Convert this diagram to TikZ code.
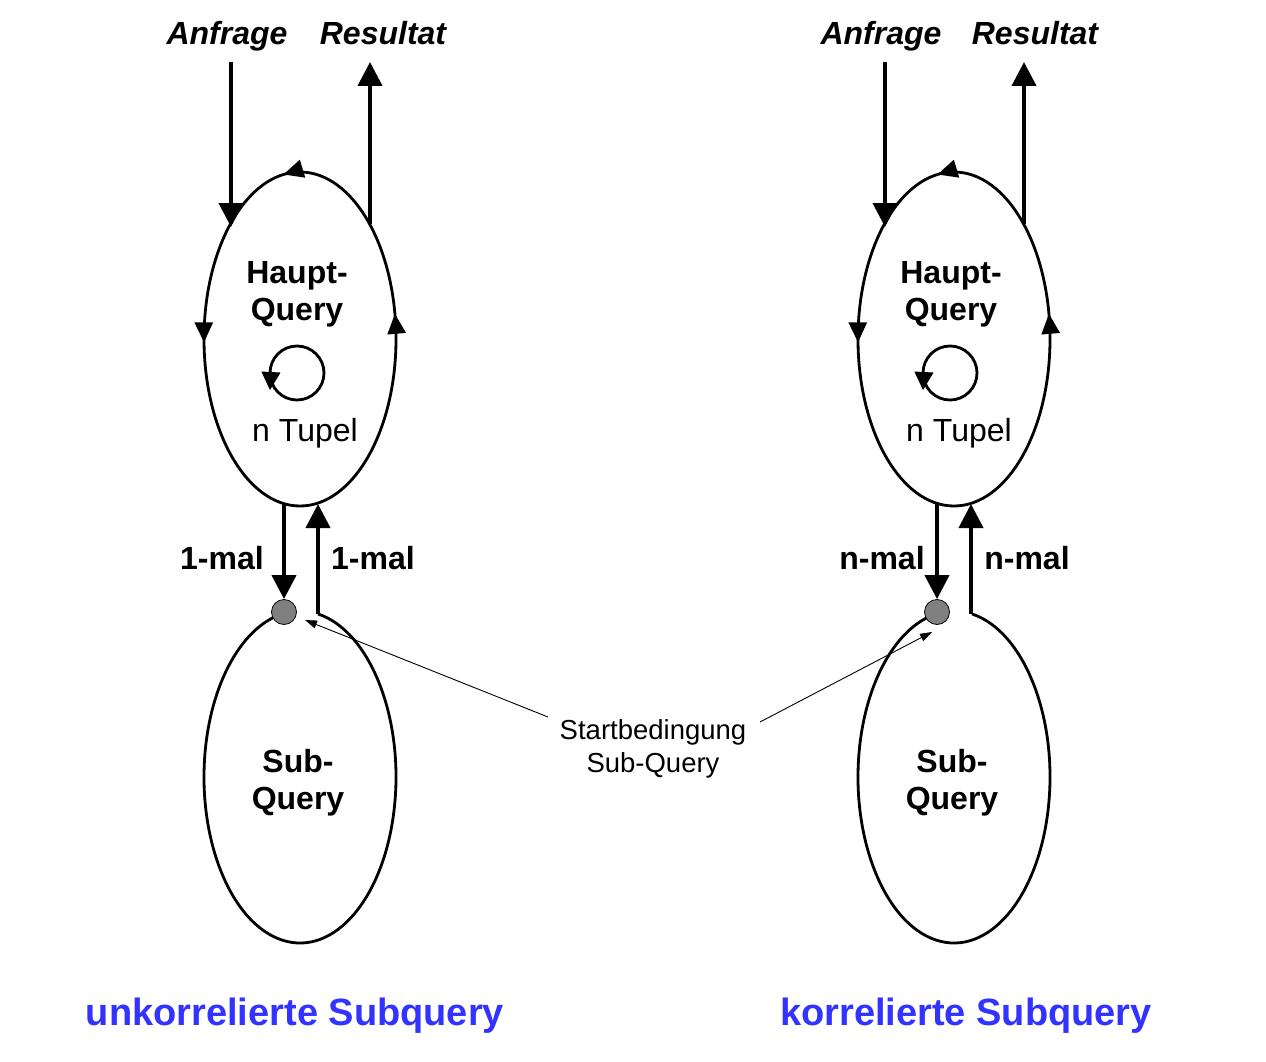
\documentclass[tikz,border=0pt]{standalone}
\usepackage{fontspec}
\setmainfont{Liberation Sans}
\usetikzlibrary{arrows.meta,decorations.markings}
\definecolor{titleblue}{HTML}{3333FF}
\definecolor{dotgray}{HTML}{808080}
\begin{document}
\begin{tikzpicture}[x=1pt,y=-1pt,
  ell/.style={line width=2.8pt},
  hauptell/.style={ell, postaction={decorate}, decoration={markings,
      mark=at position 0.73 with {\arrowreversed{Triangle[width=18pt,length=20pt]}},
      mark=at position 0.496 with {\arrowreversed{Triangle[width=18pt,length=20pt]}},
      mark=at position 0.97 with {\arrowreversed{Triangle[width=18pt,length=20pt]}}}},
  loophead/.style={line width=1pt,-{Triangle[width=19pt,length=18pt]}},
  bigarrow/.style={line width=4pt,-{Triangle[width=24pt,length=24pt]}},
  leader/.style={line width=0.9pt,-{Triangle[width=8pt,length=12pt]}},
  dot/.style={circle, fill=dotgray, draw=black, line width=0.8pt, minimum size=25pt, inner sep=0pt},
  lbl/.style={inner sep=0pt, font=\fontsize{32}{37}\selectfont\bfseries, align=center},
  toplbl/.style={inner sep=0pt, anchor=base, font=\fontsize{32}{37}\selectfont\bfseries\itshape},
  plain/.style={inner sep=0pt, font=\fontsize{32}{37}\selectfont},
  note/.style={inner sep=0pt, font=\fontsize{27.5}{33}\selectfont, align=center},
  caption/.style={inner sep=0pt, anchor=base, font=\fontsize{38}{44}\selectfont\bfseries, text=titleblue}
]
\useasboundingbox (0,0) rectangle (1266,1062);
\fill[white] (0,0) rectangle (1266,1062);

% ---------- left column ----------
\coordinate (hL) at (300,339);
\coordinate (sL) at (300,777);
\coordinate (lcL) at (297,373);
\draw[hauptell] (hL) ellipse [x radius=96, y radius=167];
\draw[ell] (lcL) circle [radius=27];
\path (lcL) ++(-26,-2) coordinate (lbL) ++(-1,19) coordinate (ltL);
\draw[loophead] (lbL) -- (ltL);
\draw[ell] (sL) ++(-79.2:96 and 166) arc [start angle=-79.2, end angle=260.4, x radius=96, y radius=166];

\node[toplbl] (anfL) at (227,44.5) {Anfrage};
\node[toplbl] (resL) at (383,44.5) {Resultat};
\node[lbl] (hqL) at (297,294) {Haupt-\\Query};
\node[plain] (ntL) at (305,433) {n Tupel};
\node[lbl] (sqL) at (298,783) {Sub-\\Query};
\node[lbl] (m1L) at (222,558) {1-mal};
\node[lbl] (m2L) at (373,558) {1-mal};
\node[dot] (dL) at (284,612) {};

\coordinate (a1L) at (231,62);
\coordinate (a2L) at (231,227);
\coordinate (r1L) at (370,224);
\coordinate (r2L) at (370,62);
\coordinate (b1L) at (284,504);
\coordinate (u1L) at (318,614);
\coordinate (u2L) at (318,504);
\draw[bigarrow] (a1L) -- (a2L);
\draw[bigarrow] (r1L) -- (r2L);
\draw[bigarrow] (b1L) -- (dL.north);
\draw[bigarrow] (u1L) -- (u2L);

\node[caption] (capL) at (295,1025.5) {unkorrelierte Subquery};

% ---------- right column ----------
\coordinate (hR) at (954,339);
\coordinate (sR) at (954,777);
\coordinate (lcR) at (950,373);
\draw[hauptell] (hR) ellipse [x radius=96, y radius=167];
\draw[ell] (lcR) circle [radius=27];
\path (lcR) ++(-26,-2) coordinate (lbR) ++(-1,19) coordinate (ltR);
\draw[loophead] (lbR) -- (ltR);
\draw[ell] (sR) ++(-79.2:96 and 166) arc [start angle=-79.2, end angle=260.4, x radius=96, y radius=166];

\node[toplbl] (anfR) at (881,44.5) {Anfrage};
\node[toplbl] (resR) at (1035,44.5) {Resultat};
\node[lbl] (hqR) at (951,294) {Haupt-\\Query};
\node[plain] (ntR) at (959,433) {n Tupel};
\node[lbl] (sqR) at (952,783) {Sub-\\Query};
\node[lbl] (m1R) at (882,558) {n-mal};
\node[lbl] (m2R) at (1027,558) {n-mal};
\node[dot] (dR) at (937,612) {};

\coordinate (a1R) at (885,62);
\coordinate (a2R) at (885,227);
\coordinate (r1R) at (1024,224);
\coordinate (r2R) at (1024,62);
\coordinate (b1R) at (937,504);
\coordinate (u1R) at (971,614);
\coordinate (u2R) at (971,504);
\draw[bigarrow] (a1R) -- (a2R);
\draw[bigarrow] (r1R) -- (r2R);
\draw[bigarrow] (b1R) -- (dR.north);
\draw[bigarrow] (u1R) -- (u2R);

\node[caption] (capR) at (966,1025.5) {korrelierte Subquery};

% ---------- shared note ----------
\node[note] (start) at (653,749) {Startbedingung\\Sub-Query};
\coordinate (sl) at (548,717);
\coordinate (tl) at (305,620);
\coordinate (sr) at (760,722);
\coordinate (tr) at (932,632);
\draw[leader] (sl) -- (tl);
\draw[leader] (sr) -- (tr);
\end{tikzpicture}
\end{document}
